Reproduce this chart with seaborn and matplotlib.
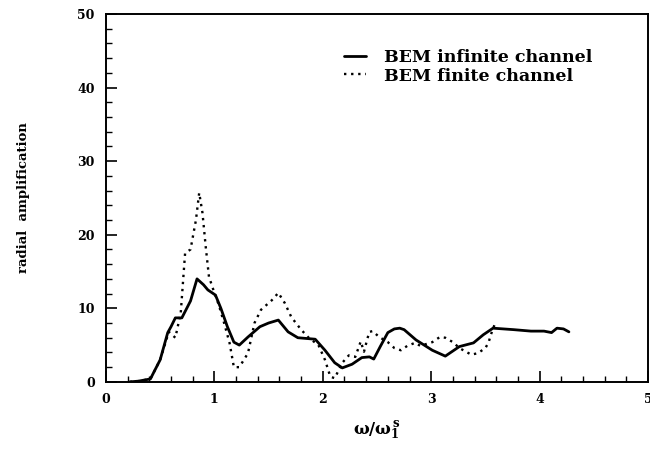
import numpy as np
import pandas as pd
import seaborn as sns
import matplotlib.pyplot as plt
from matplotlib.ticker import MultipleLocator

freq_inf = [0.22, 0.30, 0.41, 0.50, 0.57, 0.60, 0.64, 0.70, 0.78, 0.84, 0.90,
            0.94, 1.01, 1.06, 1.12, 1.18, 1.23, 1.31, 1.42, 1.50, 1.59, 1.68,
            1.77, 1.85, 1.93, 2.02, 2.11, 2.18, 2.27, 2.36, 2.43, 2.47, 2.53,
            2.60, 2.66, 2.71, 2.75, 2.86, 3.01, 3.13, 3.26, 3.39, 3.48, 3.57,
            3.76, 3.92, 4.04, 4.11, 4.16, 4.22, 4.27]
amp_inf = [0.0, 0.1, 0.4, 3.0, 6.7, 7.5, 8.7, 8.7, 11.0, 14.0, 13.2,
           12.5, 11.8, 10.0, 7.5, 5.4, 5.0, 6.1, 7.5, 8.0, 8.4, 6.8,
           6.0, 5.9, 5.8, 4.3, 2.6, 1.9, 2.4, 3.3, 3.4, 3.1, 4.8,
           6.7, 7.2, 7.3, 7.1, 5.7, 4.3, 3.5, 4.8, 5.3, 6.4, 7.3,
           7.1, 6.9, 6.9, 6.7, 7.3, 7.2, 6.8]

freq_fin = [0.22, 0.30, 0.41, 0.50, 0.58, 0.64, 0.69, 0.73, 0.78, 0.83, 0.86,
            0.89, 0.92, 0.95, 1.00, 1.04, 1.09, 1.14, 1.18, 1.23, 1.31, 1.37,
            1.43, 1.53, 1.59, 1.65, 1.71, 1.80, 1.87, 1.96, 2.02, 2.07, 2.11,
            2.18, 2.24, 2.30, 2.35, 2.38, 2.41, 2.43, 2.46, 2.52, 2.60, 2.66,
            2.72, 2.78, 2.85, 2.90, 3.01, 3.08, 3.13, 3.20, 3.26, 3.32, 3.37,
            3.43, 3.50, 3.53, 3.55, 3.59]
amp_fin = [0.0, 0.1, 0.4, 3.0, 6.8, 6.0, 9.4, 17.5, 18.0, 22.0, 25.7,
           23.0, 18.4, 14.3, 12.1, 10.5, 8.0, 5.3, 2.0, 2.0, 3.9, 8.0,
           9.8, 11.1, 12.1, 10.7, 8.8, 7.1, 6.0, 5.0, 3.0, 0.7, 0.5,
           2.6, 3.6, 3.4, 5.5, 4.1, 5.8, 6.8, 6.9, 6.1, 5.4, 4.6,
           4.3, 4.9, 5.3, 4.9, 5.4, 6.1, 6.0, 5.4, 4.6, 4.1, 3.7,
           3.9, 4.6, 5.4, 6.4, 8.0]

df_inf = pd.DataFrame({"freq": freq_inf, "amp": amp_inf})
df_fin = pd.DataFrame({"freq": freq_fin, "amp": amp_fin})

sns.set_style("ticks")
plt.rcParams["font.family"] = ["DejaVu Serif"]
plt.rcParams["font.weight"] = "bold"
plt.rcParams["axes.labelweight"] = "bold"
plt.rcParams["mathtext.fontset"] = "dejavuserif"
for key in ["text.color", "axes.labelcolor", "xtick.color", "ytick.color",
            "axes.edgecolor"]:
    plt.rcParams[key] = "black"

fig = plt.figure(figsize=(6.5, 4.53), dpi=100)
ax = fig.add_axes([0.163, 0.157, 0.834, 0.812])

sns.lineplot(data=df_inf, x="freq", y="amp", ax=ax, color="black",
             linewidth=2.0, label="BEM infinite channel")
sns.lineplot(data=df_fin, x="freq", y="amp", ax=ax, color="black",
             linewidth=1.7, linestyle=(0, (1, 2.0)), label="BEM finite channel")

ax.set_xlim(0, 5)
ax.set_ylim(0, 50)
ax.xaxis.set_major_locator(MultipleLocator(1))
ax.xaxis.set_minor_locator(MultipleLocator(0.2))
ax.yaxis.set_major_locator(MultipleLocator(10))
ax.yaxis.set_minor_locator(MultipleLocator(2))
ax.tick_params(which="major", direction="in", length=8, width=1.2,
               labelsize=9, pad=8)
ax.tick_params(which="minor", direction="in", length=4, width=1.0)
for s in ax.spines.values():
    s.set_linewidth(1.4)
    s.set_visible(True)

ax.set_xlabel(r"$\mathbf{\omega/\omega_1^{\,s}}$", fontsize=12, labelpad=10)
ax.set_ylabel("radial  amplification", fontsize=9.5, labelpad=34)

leg = ax.legend(loc="upper left", bbox_to_anchor=(0.41, 0.948), frameon=False,
                fontsize=12.5, handlelength=1.3, handletextpad=1.0,
                labelspacing=0.1)

plt.savefig("out.png", dpi=100)
